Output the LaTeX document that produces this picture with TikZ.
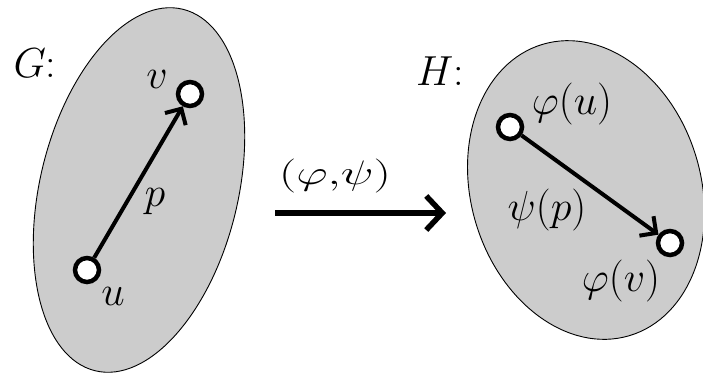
\RequirePackage{fix-cm}
\documentclass[tikz,border=0pt]{standalone}
\usepackage{graphicx}
\usetikzlibrary{arrows.meta}
\begin{document}
\begin{tikzpicture}[x=1pt,y=-1pt,
  blob/.style={fill=black!20, draw=black, line width=0.9pt},
  vert/.style={circle, draw=black, fill=white, line width=4.5pt, minimum size=24pt, inner sep=0pt},
  lbl/.style={font=\fontsize{42}{46}\selectfont, inner sep=0pt},
  edgearrow/.style={line width=4pt, -{Straight Barb[length=12pt,width=24pt,line width=4pt]}},
  maparrow/.style={line width=5.5pt, -{Straight Barb[length=16pt,width=34pt,line width=5.5pt]}}
]
\useasboundingbox (0,0) rectangle (703,375);
% G
\draw[blob, shift={(139,190)}, rotate=-13.6] (0,0) ellipse (99 and 186);
% H
\draw[blob, shift={(586,190)}, rotate=16.6] (0,0) ellipse (115 and 152);

\node[lbl] (G) at (35,63) {$G$:};
\node[lbl] (H) at (440,71) {$H$:};

\node[vert] (u) at (87,270) {};
\node[vert] (v) at (190,94) {};
\draw[edgearrow] (u) -- (v);
\node[lbl] (lv) at (157,79) {$v$};
\node[lbl] (lp) at (155,202) {$p$};
\node[lbl] (lu) at (113,296) {$u$};

\node[vert] (fu) at (510,127) {};
\node[vert] (fv) at (670,243) {};
\draw[edgearrow] (fu) -- (fv);
\node[lbl] (lfu) at (572,104) {$\varphi(u)$};
\node[lbl] (lpp) at (547,210) {$\psi(p)$};
\node[lbl] (lfv) at (621,281) {$\varphi(v)$};

\coordinate (a0) at (275,213);
\coordinate (a1) at (446,213);
\draw[maparrow] (a0) -- (a1);
\node[lbl, font=\fontsize{34}{38}\selectfont] (map) at (335,176) {\resizebox{112pt}{\height}{$(\varphi{,}\psi)$}};
\end{tikzpicture}
\end{document}
